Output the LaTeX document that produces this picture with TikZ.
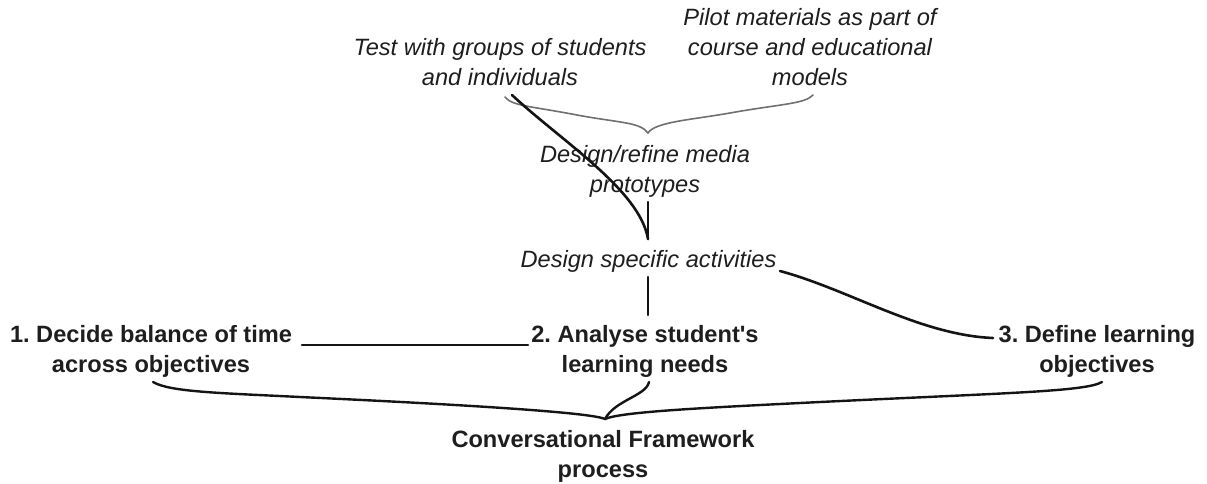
\documentclass[tikz,border=0pt]{standalone}
\usepackage{fontspec}
\setmainfont{Liberation Sans}
\frenchspacing
\definecolor{txt}{HTML}{1E1E1E}
\definecolor{ink}{HTML}{141414}
\definecolor{brgray}{HTML}{707070}
\tikzset{
  lbl/.style={inner sep=0pt, align=center, text=txt, anchor=base,
    font=\fontsize{23.6}{30}\selectfont\itshape},
  blbl/.style={inner sep=0pt, align=center, text=txt, anchor=base,
    font=\fontsize{23.6}{30}\selectfont\bfseries},
  conn/.style={draw=ink, line width=2.6pt, line cap=round},
  brace/.style={draw=brgray, line width=1.6pt, line cap=round},
  bigbrace/.style={draw=ink, line width=2.4pt, line cap=round, line join=round}
}
\begin{document}
\begin{tikzpicture}[x=1pt,y=-1pt]
\useasboundingbox[fill=white] (0,0) rectangle (1207,483);

% nodes (base = last baseline)
\node[lbl] (pilot) at (810,85) {Pilot materials as part of\\course and educational\\models};
\node[lbl] (test) at (500,85) {Test with groups of students\\and individuals};
\node[lbl] (proto) at (645,192) {Design/refine media\\prototypes};
\node[lbl] (dsa) at (648.5,267) {Design specific activities};
\node[blbl] (n1) at (151,372) {1. Decide balance of time\\across objectives};
\node[blbl] (n2) at (645,372) {2. Analyse student\textquotesingle s\\learning needs};
\node[blbl] (n3) at (1097,372) {3. Define learning\\objectives};
\node[blbl, font=\fontsize{23.6}{29.5}\selectfont\bfseries] (conv) at (603,477) {Conversational Framework\\process};

% free ends
\coordinate (tb) at (648,133);
\coordinate (bb) at (605,419);
\coordinate (tl) at (505,97);
\coordinate (tr) at (813,95);
\coordinate (ts) at (512,95);
\coordinate (bl) at (153,382);
\coordinate (br) at (1102,382);
\coordinate (bs) at (649,382);
\coordinate (pb) at (648,202);
\coordinate (dt) at (648,239);
\coordinate (db) at (648,277);
\coordinate (nt) at (648,315);
\coordinate (de) at (780,271);
\coordinate (n3w) at (993,338);
\coordinate (h1) at (302,345);
\coordinate (h2) at (528,345);

% grey brace under Test / Pilot
\draw[brace] (tl) .. controls (512,106) and (530,106) .. (577,115)
  .. controls (620,123) and (640,122) .. (tb)
  .. controls (655,122) and (690,120) .. (730,113)
  .. controls (780,104) and (805,104) .. (tr);

% black curve Test -> Design specific activities
\draw[conn] (ts) .. controls (560,140) and (640,190) .. (dt);
% proto -> dsa
\draw[conn] (pb) -- (dt);
% dsa -> n2
\draw[conn] (db) -- (nt);
% dsa -> n3
\draw[conn] (de) .. controls (850,290) and (920,335) .. (n3w);
% n1 -- n2
\draw[conn] (h1) -- (h2);

% big brace
\draw[bigbrace] (bl) .. controls (170,392) and (220,393) .. (300,397)
  .. controls (450,404) and (590,412) .. (bb)
  .. controls (620,412) and (700,408) .. (800,403)
  .. controls (1000,393) and (1085,392) .. (br);
\draw[bigbrace] (bs) .. controls (646,396) and (615,400) .. (bb);
\end{tikzpicture}
\end{document}
